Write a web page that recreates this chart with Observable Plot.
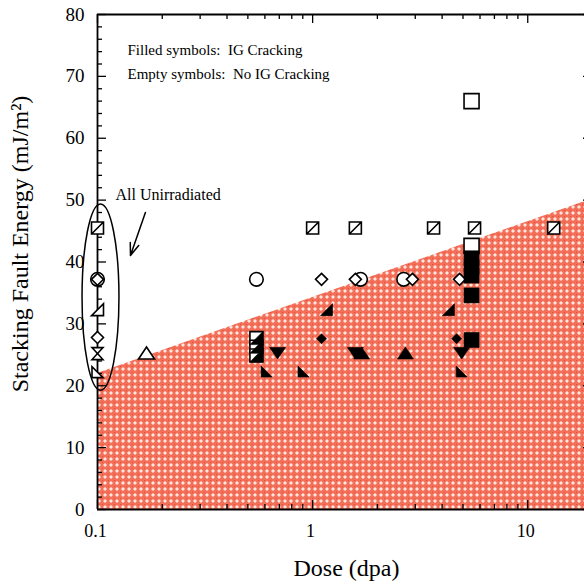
<!DOCTYPE html>
<html><head><meta charset="utf-8">
<script src="https://cdn.jsdelivr.net/npm/d3@7"></script>
<script src="https://cdn.jsdelivr.net/npm/@observablehq/plot@0.6"></script>
<style>
html,body{margin:0;padding:0;background:#fff;}
#chart svg{display:block;}
</style></head><body><div id="chart"></div>
<script>
// ---------- data ----------
const dose  = [0.1, 0.1, 0.1, 0.1, 0.1, 0.1, 0.1,
               0.169, 0.548, 0.548, 0.548, 0.548, 0.611, 0.687, 0.907,
               1.0, 1.10, 1.10, 1.16, 1.58, 1.58, 1.67, 1.58, 1.69,
               2.65, 2.91, 2.70, 3.65, 4.28, 4.67, 4.82, 4.93, 4.93,
               5.66, 5.48, 5.48, 5.48, 5.48, 5.48, 5.48, 5.48, 13.2];
const sfe   = [45.5, 37.2, 37.2, 32.3, 27.8, 25.2, 22.2,
               25.3, 37.2, 27.7, 26.3, 24.9, 22.3, 25.3, 22.3,
               45.5, 37.2, 27.6, 32.3, 45.5, 37.2, 37.2, 25.3, 25.3,
               37.2, 37.2, 25.3, 45.5, 32.3, 27.6, 37.2, 25.3, 22.3,
               45.5, 66.0, 42.6, 40.6, 39.2, 37.8, 34.6, 27.4, 45.5];
const shape = ["slashSquare", "circle", "diamond", "rightTriBR", "diamond", "hourglass", "rightTriBL",
               "triUp", "circle", "halfSquare", "halfSquare", "halfSquare", "rightTriBL", "triDown", "rightTriBL",
               "slashSquare", "diamond", "diamond", "rightTriBR", "slashSquare", "diamond", "circle", "triDown", "triUp",
               "circle", "diamond", "triUp", "slashSquare", "rightTriBR", "diamond", "diamond", "triDown", "rightTriBL",
               "slashSquare", "square", "square", "square", "square", "square", "square", "square", "slashSquare"];
const cracking = ["no", "no", "no", "no", "no", "no", "no",
               "no", "no", "partial", "partial", "partial", "IG", "IG", "IG",
               "partial", "no", "IG", "IG", "partial", "no", "no", "IG", "IG",
               "no", "no", "IG", "partial", "IG", "IG", "no", "IG", "IG",
               "partial", "no", "no", "IG", "IG", "IG", "IG", "IG", "partial"];

// shaded "IG cracking" region: boundary line
const regionDose = [0.1, 20];
const regionSfe  = [22, 50.2];

// axes
const xMajor = [0.1, 1, 10];
const xTickLabels = ["0.1", "1", "10"];
const xMinor = [0.2, 0.3, 0.4, 0.5, 0.6, 0.7, 0.8, 0.9, 2, 3, 4, 5, 6, 7, 8, 9, 20];
const yMajor = [0, 10, 20, 30, 40, 50, 60, 70, 80];
const yTickLabels = ["0", "10", "20", "30", "40", "50", "60", "70", "80"];
const yMinor = d3.range(2, 80, 2).filter(v => v % 10 !== 0);

const xTitle = "Dose (dpa)";
const yTitle = "Stacking Fault Energy (mJ/m\u00b2)";
const legendLines = ["Filled symbols:\u00a0 IG Cracking", "Empty symbols:\u00a0 No IG Cracking"];
const legendSfe = [74.3, 70.4];
const noteText = "All Unirradiated";

// ---------- build tables ----------
const points = dose.map((d, i) => ({dose: d, sfe: sfe[i], shape: shape[i], cracking: cracking[i]}));
const region = regionDose.map((d, i) => ({dose: d, sfe: regionSfe[i]}));

// ---------- symbols ----------
const poly = (pts) => ({draw(c) { c.moveTo(pts[0][0], pts[0][1]); for (let k = 1; k < pts.length; k++) c.lineTo(pts[k][0], pts[k][1]); c.closePath(); }});
const SYM = {
  circle: {draw(c) { c.moveTo(6.8, 0); c.arc(0, 0, 6.8, 0, 2 * Math.PI); c.closePath(); }},
  square: poly([[-7.5,-7.5],[7.5,-7.5],[7.5,7.5],[-7.5,7.5]]),
  slashSquare: {draw(c) { c.moveTo(-6,-6); c.lineTo(6,-6); c.lineTo(6,6); c.lineTo(-6,6); c.closePath(); c.moveTo(-6,6); c.lineTo(6,-6); }},
  halfBox: poly([[-6.5,-6.5],[6.5,-6.5],[6.5,6.5],[-6.5,6.5]]),
  halfTri: poly([[6.5,-6.5],[6.5,6.5],[-6.5,6.5]]),
  diamond: poly([[0,-6],[6,0],[0,6],[-6,0]]),
  diamondSmall: poly([[0,-5],[5,0],[0,5],[-5,0]]),
  triUp: poly([[0,-6],[8,6],[-8,6]]),
  triDown: poly([[-8,-5.5],[8,-5.5],[0,6]]),
  rightTriBL: poly([[-5.5,-5.5],[-5.5,5.5],[5.5,5.5]]),
  rightTriBR: poly([[6,-6],[6,6],[-6,6]]),
  hourglass: poly([[-5.5,-6],[5.5,-6],[-5.5,6],[5.5,6]])
};

const sel = (s, c) => points.filter(p => p.shape === s && (c == null || p.cracking === c));
const openDot = (data, symbol) => Plot.dot(data, {x: "dose", y: "sfe", symbol, fill: "white", stroke: "black", strokeWidth: 1.6});
const fullDot = (data, symbol) => Plot.dot(data, {x: "dose", y: "sfe", symbol, fill: "black", stroke: "black", strokeWidth: 0.6});

const INNER = 495; // frame size in px (both directions)
const serif = "'Liberation Serif', 'Times New Roman', serif";

const plot = Plot.plot({
  width: 584,
  height: 587,
  marginLeft: 97,
  marginRight: -8,
  marginTop: 14,
  marginBottom: 78,
  style: {fontFamily: serif, background: "white", color: "black", overflow: "visible"},
  x: {type: "log", domain: [0.1, 20], axis: null},
  y: {domain: [0, 80], axis: null},
  marks: [
    Plot.areaY(region, {x: "dose", y: "sfe", fill: "#f08070"}),
    // frame
    Plot.ruleY([0, 80], {stroke: "black", strokeWidth: 1.8}),
    Plot.ruleX([0.1, 20], {stroke: "black", strokeWidth: 1.8}),
    // inward ticks: bottom, top
    Plot.tickX(xMajor, {x: d => d, insetTop: INNER - 9, strokeWidth: 1.3}),
    Plot.tickX(xMinor, {x: d => d, insetTop: INNER - 5, strokeWidth: 1.3}),
    Plot.tickX(xMajor, {x: d => d, insetBottom: INNER - 9, strokeWidth: 1.3}),
    Plot.tickX(xMinor, {x: d => d, insetBottom: INNER - 5, strokeWidth: 1.3}),
    // inward ticks: left, right
    Plot.tickY(yMajor, {y: d => d, insetRight: INNER - 9, strokeWidth: 1.3}),
    Plot.tickY(yMinor, {y: d => d, insetRight: INNER - 5, strokeWidth: 1.3}),
    Plot.tickY(yMajor, {y: d => d, insetLeft: INNER - 9, strokeWidth: 1.3}),
    Plot.tickY(yMinor, {y: d => d, insetLeft: INNER - 5, strokeWidth: 1.3}),
    // tick labels
    Plot.text(yMajor, {y: d => d, text: (d, i) => yTickLabels[i], frameAnchor: "left", textAnchor: "end", lineAnchor: "middle", dx: -13, fontSize: 19}),
    Plot.text(xMajor, {x: d => d, text: (d, i) => xTickLabels[i], frameAnchor: "bottom", textAnchor: "middle", lineAnchor: "middle", dy: 22, dx: -2, fontSize: 18}),
    // axis titles
    Plot.text([yTitle], {text: d => d, frameAnchor: "left", textAnchor: "middle", lineAnchor: "middle", rotate: -90, dx: -77, dy: -18, fontSize: 24}),
    Plot.text([xTitle], {text: d => d, frameAnchor: "bottom", textAnchor: "middle", lineAnchor: "middle", dx: 1.5, dy: 59, fontSize: 24}),
    // symbols
    openDot(sel("circle"), SYM.circle),
    openDot(sel("square", "no"), SYM.square),
    openDot(sel("slashSquare"), SYM.slashSquare),
    openDot(sel("halfSquare"), SYM.halfBox),
    fullDot(sel("halfSquare"), SYM.halfTri),
    openDot(sel("diamond", "no"), SYM.diamond),
    fullDot(sel("diamond", "IG"), SYM.diamondSmall),
    openDot(sel("triUp", "no"), SYM.triUp),
    fullDot(sel("triUp", "IG"), SYM.triUp),
    fullDot(sel("triDown", "IG"), SYM.triDown),
    openDot(sel("rightTriBL", "no"), SYM.rightTriBL),
    fullDot(sel("rightTriBL", "IG"), SYM.rightTriBL),
    openDot(sel("rightTriBR", "no"), SYM.rightTriBR),
    fullDot(sel("rightTriBR", "IG"), SYM.rightTriBR),
    openDot(sel("hourglass"), SYM.hourglass),
    fullDot(sel("square", "IG"), SYM.square),
    // annotations
    Plot.text(legendLines, {x: () => 0.1379, y: (d, i) => legendSfe[i], text: d => d, textAnchor: "start", fontSize: 15}),
    Plot.text([noteText], {x: () => 0.1212, y: () => 50.8, text: d => d, textAnchor: "start", fontSize: 16}),
    Plot.arrow([{x1: 0.167, y1: 48.0, x2: 0.1423, y2: 41.05}], {x1: "x1", y1: "y1", x2: "x2", y2: "y2", stroke: "black", strokeWidth: 1.5, headLength: 13, headAngle: 40})
  ]
});

// hatch pattern for the shaded region
const ns = "http://www.w3.org/2000/svg";
const defs = document.createElementNS(ns, "defs");
const pat = document.createElementNS(ns, "pattern");
pat.setAttribute("id", "hatch");
pat.setAttribute("patternUnits", "userSpaceOnUse");
pat.setAttribute("width", "6");
pat.setAttribute("height", "6");
const rects = [
  [0, 0, 6, 6, "#f2705a"],
  [2, 1, 2, 4, "#f8ab9a"],
  [1, 2, 4, 2, "#f8ab9a"],
  [2, 2, 2, 2, "#fde6df"],
  [0, 0, 1, 1, "#e84a32"]
];
for (const [x, y, w, h, f] of rects) {
  const r = document.createElementNS(ns, "rect");
  r.setAttribute("x", x); r.setAttribute("y", y); r.setAttribute("width", w); r.setAttribute("height", h);
  r.setAttribute("fill", f); r.setAttribute("shape-rendering", "crispEdges");
  pat.appendChild(r);
}
defs.appendChild(pat);
plot.insertBefore(defs, plot.firstChild);
plot.querySelectorAll('g[aria-label="area"]').forEach(g => {
  g.setAttribute("fill", "url(#hatch)");
  g.querySelectorAll("path").forEach(p => p.removeAttribute("fill"));
});

// ellipse around the unirradiated points, placed with the plot's own scales
const sx = plot.scale("x"), sy = plot.scale("y");
const fx = d3.scaleLog().domain(sx.domain).range(sx.range);
const fy = d3.scaleLinear().domain(sy.domain).range(sy.range);
const ex = [fx(0.0852), fx(0.1265)], ey = [fy(49.3), fy(19.2)];
const ell = document.createElementNS(ns, "ellipse");
ell.setAttribute("cx", (ex[0] + ex[1]) / 2);
ell.setAttribute("cy", (ey[0] + ey[1]) / 2);
ell.setAttribute("rx", Math.abs(ex[1] - ex[0]) / 2);
ell.setAttribute("ry", Math.abs(ey[1] - ey[0]) / 2);
ell.setAttribute("fill", "none");
ell.setAttribute("stroke", "black");
ell.setAttribute("stroke-width", "1.5");
plot.appendChild(ell);

document.getElementById("chart").appendChild(plot);
</script>
</body></html>
